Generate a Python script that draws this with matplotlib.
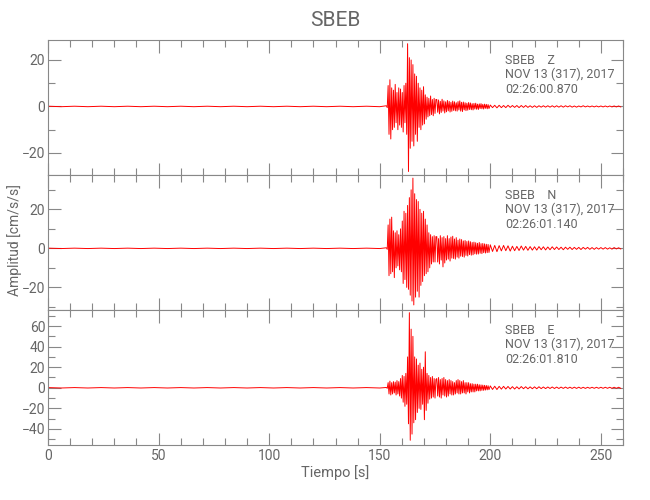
import matplotlib
matplotlib.use("Agg")
import matplotlib.pyplot as plt
from matplotlib.ticker import MultipleLocator
import numpy as np

# station / header info
station = "SBEB"
components = ["Z", "N", "E"]
date_str = "NOV 13 (317), 2017"
start_times = ["02:26:00.870", "02:26:01.140", "02:26:01.810"]

# peak readings (alternating +/-) in cm/s/s
# pre-event noise, 0..150 s every 6 s
pre_z = [0.1, -0.1, 0.1, -0.1, 0.1, -0.1, 0.1, -0.1, 0.1, -0.1, 0.1, -0.1, 0.1,
         -0.1, 0.1, -0.1, 0.1, -0.1, 0.1, -0.1, 0.1, -0.1, 0.1, -0.1, 0.1, -0.1]
pre_n = [0.1, -0.1, 0.1, -0.1, 0.1, -0.1, 0.1, -0.1, 0.1, -0.1, 0.1, -0.1, 0.1,
         -0.1, 0.1, -0.1, 0.1, -0.1, 0.1, -0.1, 0.1, -0.1, 0.1, -0.1, 0.1, -0.1]
pre_e = [0.2, -0.2, 0.2, -0.2, 0.2, -0.2, 0.2, -0.2, 0.2, -0.2, 0.2, -0.2, 0.2,
         -0.2, 0.2, -0.2, 0.2, -0.2, 0.2, -0.2, 0.2, -0.2, 0.2, -0.2, 0.2, -0.2]

# strong motion, from 153.0 s every 0.4 s
strong_z = [0.3, -0.5, 9, -12, 11.5, -14, 8, -10, 7, -9, 9.5, -7, 6, -10, 8, -8,
            7.5, -9, 6, -11, 9, -7, 10, -12, 27, -28, 21, -18, 20, -15, 18, -17,
            14, -12, 13, -15, 10, -9, 8, -10, 7, -8, 8.5, -7.5, 5, -5.5, 4, -4.5,
            3.5, -4, 4.5, -3.5, 3, -4, 3.5, -3, 3]
strong_n = [0.3, -0.5, 12, -14, 15, -13, 16, -12, 9, -15, 8, -10, 9, -9, 7, -11,
            10, -12, 14, -18, 19, -16, 18, -20, 22, -21, 26, -24, 30, -27, 36, -29,
            28, -25, 25, -22, 24, -25, 20, -19, 18, -17, 19, -14, 15, -13, 12, -12,
            8, -10, 7, -8, 6, -7, 6.5, -7, 6]
strong_e = [0.3, -0.5, 5, -6, 6.5, -7, 5, -6, 6, -5, 5.5, -7, 7, -6, 6, -8,
            9, -10, 12, -14, 11, -18, 14, -16, 30, -35, 73, -51, 57, -45, 50, -34,
            30, -31, 28, -24, 22, -20, 24, -21, 18, -16, 20, -31, 35, -22, 14, -15,
            12, -11, 10, -10, 11, -9, 9, -10, 8]

# coda, from 175.8 s every 0.4 s
coda_z = [3.0, -2.5, 2.8, -3.2, 2.2, -2.6, 3.1, -2.0, 2.4, -2.8, 2.0, -2.3, 2.6, -1.9,
          2.2, -2.4, 1.8, -2.1, 2.3, -1.7, 2.0, -1.9, 1.6, -2.0, 2.1, -1.5, 2.4, -2.0,
          1.8, -2.2, 1.9, -1.5, 1.6, -1.8, 1.4, -1.6, 1.7, -1.3, 1.5, -1.4, 1.2, -1.5,
          1.3, -1.1, 1.4, -1.2, 1.0, -1.3, 1.1, -0.9, 1.2, -1.0, 0.9, -1.1, 1.0, -0.8,
          0.9, -1.0, 0.8, -0.9]
coda_n = [6.0, -7.0, 5.0, -8.0, 6.5, -6.0, 5.5, -9.5, 6.0, -7.5, 5.0, -6.0, 6.5, -5.5,
          5.0, -6.5, 5.8, -5.0, 6.2, -5.2, 4.8, -5.5, 5.5, -4.5, 4.2, -5.0, 4.8, -4.0,
          4.5, -4.2, 3.8, -4.5, 4.0, -3.6, 3.5, -3.9, 3.8, -3.2, 3.4, -3.5, 3.0, -3.3,
          3.2, -2.8, 2.9, -3.0, 2.6, -2.9, 3.0, -2.5, 2.4, -2.7, 2.5, -2.2, 2.3, -2.4,
          2.1, -2.2, 2.0, -2.1]
coda_e = [9, -8, 10, -9, 8, -10, 9, -7, 10, -8, 8, -9, 7, -8, 8, -6, 7, -7, 6, -7,
          5, -6, 7, -5, 8, -6, 7, -6, 6, -5, 7, -5, 5, -6, 5, -4, 5, -5, 4, -4,
          4, -4, 3.5, -4, 3.5, -3, 3.5, -3, 3, -3, 2.8, -2.5, 2.6, -2.5, 2.4, -2.2,
          2.2, -2, 2, -1.8]

# tail, from 200 s every 1 s
tail_z = [0.6, -0.5, 0.5, -0.6, 0.5, -0.5, 0.4, -0.5, 0.5, -0.4, 0.4, -0.4, 0.4, -0.5,
          0.4, -0.4, 0.4, -0.4, 0.3, -0.4, 0.3, -0.4, 0.3, -0.3, 0.3, -0.3, 0.3, -0.3,
          0.3, -0.3, 0.3, -0.3, 0.3, -0.3, 0.3, -0.2, 0.3, -0.3, 0.2, -0.3, 0.2, -0.2,
          0.3, -0.2, 0.2, -0.2, 0.2, -0.2, 0.2, -0.2, 0.2, -0.2, 0.2, -0.2, 0.2, -0.2,
          0.2, -0.2, 0.2, -0.2]
tail_n = [1.8, -1.6, 1.5, -1.7, 1.4, -1.3, 1.5, -1.2, 1.3, -1.4, 1.1, -1.2, 1.0, -1.1,
          1.2, -0.9, 1.0, -1.0, 0.9, -0.9, 0.8, -0.9, 0.9, -0.7, 0.8, -0.8, 0.7, -0.7,
          0.8, -0.6, 0.7, -0.6, 0.6, -0.7, 0.6, -0.5, 0.6, -0.6, 0.5, -0.5, 0.5, -0.6,
          0.5, -0.4, 0.5, -0.5, 0.4, -0.5, 0.4, -0.4, 0.4, -0.4, 0.4, -0.4, 0.3, -0.4,
          0.4, -0.3, 0.3, -0.3]
tail_e = [1.8, -1.6, 1.5, -1.7, 1.4, -1.3, 1.4, -1.2, 1.3, -1.2, 1.1, -1.2, 1.0, -1.1,
          1.2, -0.9, 1.0, -1.0, 0.9, -0.9, 0.9, -0.9, 1.0, -0.8, 0.8, -0.8, 0.8, -0.7,
          0.8, -0.7, 0.7, -0.7, 0.7, -0.6, 0.7, -0.6, 0.6, -0.6, 0.6, -0.6, 0.6, -0.6,
          0.5, -0.6, 0.5, -0.5, 0.5, -0.5, 0.5, -0.5, 0.5, -0.5, 0.5, -0.5, 0.5, -0.5,
          0.5, -0.5, 0.5, -0.5]

ylims = [(-29.5, 28.6), (-31.6, 37.6), (-55.6, 75.6)]


def build_trace(pre, strong, coda, tail):
    # sample times of the readings for each segment
    t = np.concatenate([
        0.0 + 6.0 * np.arange(len(pre)),
        153.0 + 0.4 * np.arange(len(strong)),
        175.8 + 0.4 * np.arange(len(coda)),
        200.0 + 1.0 * np.arange(len(tail)),
    ])
    a = np.concatenate([pre, strong, coda, tail])
    return t, a


traces = [build_trace(pre_z, strong_z, coda_z, tail_z),
          build_trace(pre_n, strong_n, coda_n, tail_n),
          build_trace(pre_e, strong_e, coda_e, tail_e)]

plt.rcParams['font.family'] = ['Roboto', 'DejaVu Sans']
gray = '#666666'

fig = plt.figure(figsize=(6.5, 5), dpi=100)
left, width = 48 / 650, 575 / 650
bottoms = [0.65, 0.38, 0.11]

for i in range(3):
    ax = fig.add_axes([left, bottoms[i], width, 0.27])
    t, a = traces[i]
    ax.plot(t, a, color='#ff0000', lw=0.7)
    ax.set_xlim(0, 260)
    ax.set_ylim(*ylims[i])
    ax.xaxis.set_major_locator(MultipleLocator(50))
    ax.xaxis.set_minor_locator(MultipleLocator(10))
    ax.yaxis.set_major_locator(MultipleLocator(20))
    ax.yaxis.set_minor_locator(MultipleLocator(10))
    ax.tick_params(which='both', direction='in', top=True, right=True,
                   colors='#888888', labelcolor=gray, labelsize=10, pad=2)
    ax.tick_params(which='major', length=9, width=0.8)
    ax.tick_params(which='minor', length=5, width=0.8)
    ax.tick_params(axis='x', pad=3)
    for sp in ax.spines.values():
        sp.set_color('#888888')
        sp.set_linewidth(0.8)
    if i < 2:
        ax.tick_params(labelbottom=False)
    else:
        ax.set_xlabel('Tiempo [s]', color=gray, fontsize=10.5, labelpad=1)
    tr = ax.get_xaxis_transform()
    ax.text(206.6, 0.85, station + '    ' + components[i], transform=tr,
            color=gray, fontsize=9, va='center')
    ax.text(206.6, 0.745, date_str, transform=tr,
            color=gray, fontsize=9, va='center')
    ax.text(206.6, 0.635, start_times[i], transform=tr,
            color=gray, fontsize=9, va='center')

fig.text(0.516, 0.958, station, ha='center', va='center', color=gray, fontsize=15)
fig.text(15 / 650, 1 - 240 / 500, 'Amplitud [cm/s/s]', rotation=90, ha='center',
         va='center', color=gray, fontsize=10)

fig.savefig('out.png', dpi=100)
